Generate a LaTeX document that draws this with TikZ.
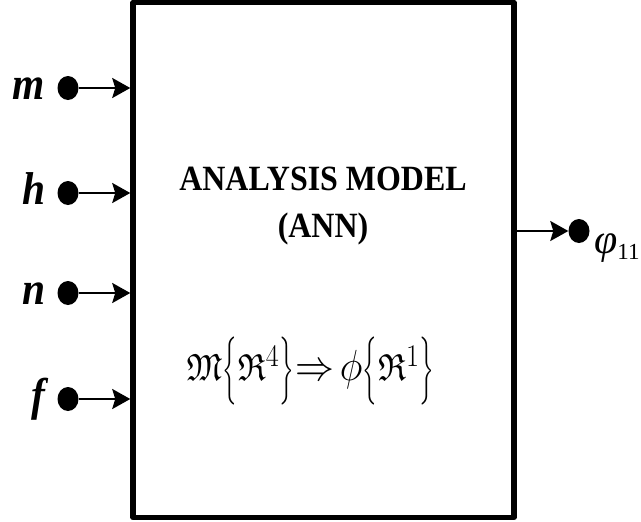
\documentclass[tikz,border=0pt]{standalone}
\usepackage{fontspec}
\setmainfont{Liberation Serif}
\usepackage{amsfonts}
\usepackage{graphicx}
\usetikzlibrary{arrows.meta,positioning,shapes.geometric}

% narrow, tall lettering as in the source figure
\newcommand{\tallText}[1]{\scalebox{0.9}[1]{#1}}
\newcommand{\bigSym}[1]{\mathord{\scalebox{1.15}{$#1$}}}
\newcommand{\tallBrace}[1]{\mathord{\scalebox{0.65}[1]{$\left#1\rule[-17pt]{0pt}{47pt}\right.$}}}

\tikzset{
  modelbox/.style={draw, line width=5.5pt, line join=round, minimum width=381pt, minimum height=515pt, inner sep=0pt},
  portdot/.style={ellipse, fill=black, inner sep=0pt, minimum width=21pt, minimum height=24pt},
  portlabel/.style={font=\fontsize{46}{46}\selectfont\bfseries\itshape, inner sep=0pt},
  flow/.style={->, line width=2.2pt},
}

\begin{document}
\begin{tikzpicture}[x=1pt, y=-1pt, >={Stealth[length=18pt,width=20pt,inset=3pt]}]
    \useasboundingbox (0,0) rectangle (641,522);

    % Model block
    \node[modelbox] (model) at (323.5,260) {};
    \node[align=center, font=\fontsize{35.5}{47}\selectfont\bfseries] (title) at (323,206)
        {\tallText{ANALYSIS MODEL}\\\tallText{(ANN)}};
    \node[anchor=base, inner sep=0pt] (map) at (311,380)
        {\scalebox{1.36}[1.52]{\fontsize{24.88}{30}\selectfont
         $\mathfrak{M}\tallBrace\{\mathfrak{R}^4\tallBrace\}\bigSym{\Rightarrow}\,\bigSym{\phi}\tallBrace\{\mathfrak{R}^1\tallBrace\}$}};

    % Inputs
    \foreach \lab/\y [count=\i] in {m/88, h/193, n/293, f/399} {
        \node[portdot] (in\i) at (68,\y) {};
        \node[portlabel, anchor=base east] (lab\i) at ([xshift=-12pt, yshift=-11pt]in\i.west) {\tallText{\lab}};
        \draw[flow] (in\i) -- (in\i -| model.west);
    }

    % Output
    \node[portdot] (out) at (579,231) {};
    \draw[flow] (out -| model.east) -- (out);
    \node[anchor=base west, inner sep=0pt] (outlab) at (594,253)
        {{\fontsize{42}{42}\selectfont\itshape φ}{\fontsize{23}{23}\selectfont\raisebox{-6pt}{11}}};
\end{tikzpicture}
\end{document}
